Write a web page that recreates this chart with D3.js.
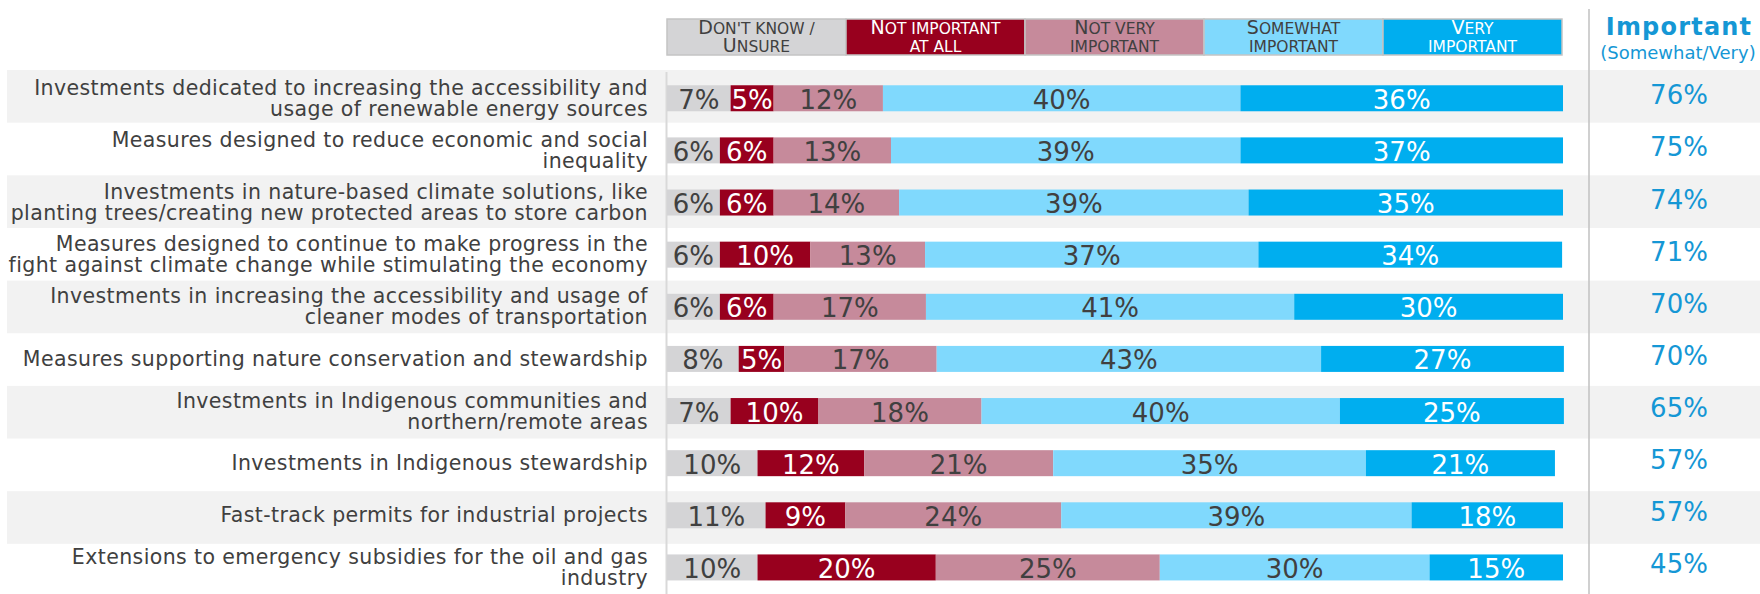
<!DOCTYPE html>
<html><head><meta charset="utf-8">
<script src="https://cdn.jsdelivr.net/npm/d3@7"></script>
<style>html,body{margin:0;padding:0;background:#fff;} svg{display:block;}</style>
</head><body><svg id="chart" width="1760" height="594"></svg>
<script>
// ---------- DATA ----------
const categories = [
  "Investments dedicated to increasing the accessibility and\nusage of renewable energy sources",
  "Measures designed to reduce economic and social\ninequality",
  "Investments in nature-based climate solutions, like\nplanting trees/creating new protected areas to store carbon",
  "Measures designed to continue to make progress in the\nfight against climate change while stimulating the economy",
  "Investments in increasing the accessibility and usage of\ncleaner modes of transportation",
  "Measures supporting nature conservation and stewardship",
  "Investments in Indigenous communities and\nnorthern/remote areas",
  "Investments in Indigenous stewardship",
  "Fast-track permits for industrial projects",
  "Extensions to emergency subsidies for the oil and gas\nindustry"
];
const seriesNames = ["Don't know /\nUnsure", "Not important\nat all", "Not very\nimportant", "Somewhat\nimportant", "Very\nimportant"];
// segment lengths (share of respondents, %) as drawn
const dontKnow = [7.1, 5.9, 5.9, 5.9, 5.9, 8.0, 7.1, 10.1, 11.0, 10.1];
const notAtAll = [4.8, 6.0, 6.0, 10.1, 6.0, 5.1, 9.8, 11.9, 8.9, 19.9];
const notVery  = [12.2, 13.1, 14.0, 12.8, 17.0, 17.0, 18.2, 21.1, 24.1, 25.0];
const somewhat = [39.9, 39.0, 39.0, 37.2, 41.1, 42.9, 40.0, 34.9, 39.1, 30.1];
const very     = [36.0, 36.0, 35.1, 33.9, 30.0, 27.1, 25.0, 21.1, 16.9, 14.9];
// printed labels
const dontKnowLabels = ["7%","6%","6%","6%","6%","8%","7%","10%","11%","10%"];
const notAtAllLabels = ["5%","6%","6%","10%","6%","5%","10%","12%","9%","20%"];
const notVeryLabels  = ["12%","13%","14%","13%","17%","17%","18%","21%","24%","25%"];
const somewhatLabels = ["40%","39%","39%","37%","41%","43%","40%","35%","39%","30%"];
const veryLabels     = ["36%","37%","35%","34%","30%","27%","25%","21%","18%","15%"];
const importantTotals = ["76%","75%","74%","71%","70%","70%","65%","57%","57%","45%"];
const importantTitle = "Important";
const importantSub = "(Somewhat/Very)";

// ---------- STYLE ----------
const colors = ["#d4d4d6", "#98001e", "#c68a9b", "#80d9fd", "#00aeef"];
const textColors = ["#404040", "#ffffff", "#404040", "#404040", "#ffffff"];
const accent = "#1597d5";
const FONT = "'DejaVu Sans', Verdana, sans-serif";

const svg = d3.select("#chart");
const W = 1760, H = 594;

const x = d3.scaleLinear().domain([0, 100]).range([667, 1563]);
const rowBand = d3.scaleBand().domain(d3.range(categories.length)).range([70, 70 + 52.65 * 10]).paddingInner(0);
const barBand = d3.scaleBand().domain(d3.range(categories.length)).range([72.2, 72.2 + 52.13 * 10]);
const barH = 26;
const cy = i => barBand(i) + barBand.bandwidth() / 2;

// row stripes
svg.append("g").selectAll("rect").data(d3.range(categories.length).filter(i => i % 2 === 0))
  .join("rect")
  .attr("x", 7).attr("width", W - 7)
  .attr("y", i => rowBand(i)).attr("height", rowBand.bandwidth())
  .attr("fill", "#f2f2f2");

// axis line at bar start
svg.append("line").attr("x1", x(0) - 0.5).attr("x2", x(0) - 0.5).attr("y1", 72).attr("y2", H)
  .attr("stroke", "#d9d9d9").attr("stroke-width", 2);
// right separator
svg.append("line").attr("x1", 1589).attr("x2", 1589).attr("y1", 9).attr("y2", H)
  .attr("stroke", "#c0c0c0").attr("stroke-width", 1.5);

// stacked data
const valueSets = [dontKnow, notAtAll, notVery, somewhat, very];
const labelSets = [dontKnowLabels, notAtAllLabels, notVeryLabels, somewhatLabels, veryLabels];
const rows = categories.map((c, i) => {
  const o = { i };
  seriesNames.forEach((s, k) => o[k] = valueSets[k][i]);
  return o;
});
const stack = d3.stack().keys(d3.range(seriesNames.length))(rows);

const gBars = svg.append("g");
stack.forEach((layer, k) => {
  const g = gBars.append("g");
  g.selectAll("rect").data(layer).join("rect")
    .attr("x", d => x(d[0]))
    .attr("width", d => x(d[1]) - x(d[0]))
    .attr("y", (d, i) => cy(i) - barH / 2)
    .attr("height", barH)
    .attr("fill", colors[k]);
  g.selectAll("text").data(layer).join("text")
    .attr("x", d => (x(d[0]) + x(d[1])) / 2)
    .attr("y", (d, i) => cy(i) + 10.5)
    .attr("text-anchor", "middle")
    .attr("font-family", FONT).attr("font-size", 26)
    .attr("fill", textColors[k])
    .text((d, i) => labelSets[k][i]);
});

// category labels
const gLab = svg.append("g");
categories.forEach((c, i) => {
  const lines = c.split("\n");
  const lh = 21;
  const base = cy(i) + 7 - (lines.length - 1) * lh / 2;
  const t = gLab.append("text").attr("text-anchor", "end")
    .attr("font-family", FONT).attr("font-size", 20.5).attr("letter-spacing", 0.4)
    .attr("fill", "#404040");
  lines.forEach((ln, j) => t.append("tspan").attr("x", 648).attr("y", base + j * lh).text(ln));
});

// important totals
svg.append("g").selectAll("text").data(importantTotals).join("text")
  .attr("x", 1679).attr("y", (d, i) => cy(i) + 6)
  .attr("text-anchor", "middle")
  .attr("font-family", FONT).attr("font-size", 26).attr("fill", accent)
  .text(d => d);
svg.append("text").attr("x", 1679).attr("y", 35).attr("text-anchor", "middle")
  .attr("font-family", FONT).attr("font-size", 24).attr("font-weight", "bold")
  .attr("letter-spacing", 1.2).attr("fill", accent).text(importantTitle);
svg.append("text").attr("x", 1678).attr("y", 59).attr("text-anchor", "middle")
  .attr("font-family", FONT).attr("font-size", 18).attr("fill", accent).text(importantSub);

// legend
const lx = d3.scaleBand().domain(d3.range(seriesNames.length)).range([667, 1562]);
const legTop = 19, legH = 36;
const defs = svg.append("defs");
const gLeg = svg.append("g");
seriesNames.forEach((name, k) => {
  defs.append("clipPath").attr("id", "lc" + k).append("rect")
    .attr("x", lx(k)).attr("y", legTop).attr("width", lx.bandwidth()).attr("height", legH);
  gLeg.append("rect").attr("x", lx(k)).attr("y", legTop)
    .attr("width", lx.bandwidth()).attr("height", legH)
    .attr("fill", colors[k]);
  const lines = name.split("\n");
  const t = gLeg.append("text").attr("text-anchor", "middle")
    .attr("clip-path", "url(#lc" + k + ")")
    .attr("font-family", FONT).attr("fill", textColors[k]);
  lines.forEach((ln, j) => {
    const cx = lx(k) + lx.bandwidth() / 2;
    const y = j === 0 ? 33.5 : 52;
    // emulate small caps: capitals large, lower-case letters small upper-case
    const runs = [];
    for (const ch of ln) {
      const big = ch !== ch.toLowerCase();
      if (runs.length && runs[runs.length - 1].big === big) runs[runs.length - 1].s += ch;
      else runs.push({ big, s: ch });
    }
    runs.forEach((r, m) => {
      const ts = t.append("tspan").attr("font-size", r.big ? 19 : 15.5).text(r.s.toUpperCase());
      if (m === 0) ts.attr("x", cx).attr("y", y);
    });
  });
  gLeg.append("rect").attr("x", lx(k)).attr("y", legTop)
    .attr("width", lx.bandwidth()).attr("height", legH)
    .attr("fill", "none").attr("stroke", "#c4c4c4").attr("stroke-width", 1.5);
});
</script>
</body></html>
